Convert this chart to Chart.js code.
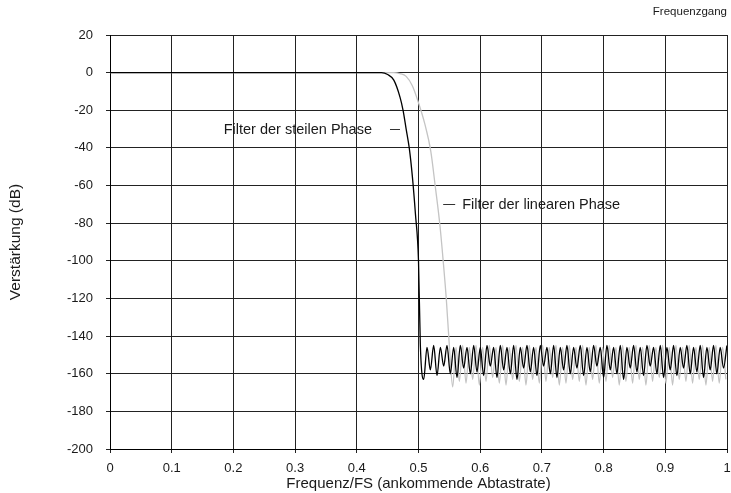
<!DOCTYPE html>
<html>
<head>
<meta charset="utf-8">
<script src="https://cdn.jsdelivr.net/npm/chart.js@4"></script>
<style>
  body { margin: 0; background: #fff; }
  #wrap { width: 731px; height: 493px; }
</style>
</head>
<body>
<div id="wrap"><canvas id="chart" width="731" height="493"></canvas></div>
<script>
// Axis ticks
const xTicks = [0, 0.1, 0.2, 0.3, 0.4, 0.5, 0.6, 0.7, 0.8, 0.9, 1];
const yTicks = [20, 0, -20, -40, -60, -80, -100, -120, -140, -160, -180, -200];

// Steep (minimum) phase filter: passband + transition
const steepFreq = [0, 0.44, 0.45, 0.46, 0.47, 0.475, 0.48, 0.485, 0.49, 0.495, 0.5];
const steepGain = [0, 0, -1, -4, -13, -20, -30, -40, -55, -75, -100];

// Linear phase filter: passband + transition
const linearFreq = [0, 0.46, 0.47, 0.48, 0.49, 0.5, 0.51, 0.52, 0.527, 0.535, 0.54, 0.545];
const linearGain = [0, 0, -0.5, -2, -7, -16, -27, -42, -60, -82, -100, -120];

// Stopband ripple, one value per half period (peak, null, peak, ...)
const rippleStep = 0.0054;
const steepRippleStart = 0.503;
const steepRipple = [
  -145, -163, -146, -158, -145, -161, -146, -156, -145, -160, -146, -162, -145, -157, -146, -160, -145, -159, -146, -161,
  -145, -156, -146, -162, -145, -158, -146, -160, -145, -163, -146, -157, -145, -159, -146, -161, -145, -156, -146, -160,
  -145, -162, -146, -158, -145, -160, -146, -157, -145, -161, -146, -159, -145, -156, -146, -162, -145, -158, -146, -160,
  -145, -163, -146, -157, -145, -159, -146, -161, -145, -156, -146, -160, -145, -162, -146, -158, -145, -161, -146, -157,
  -145, -160, -146, -159, -145, -162, -146, -158, -145, -160, -146, -157, -145
];
const linearRippleStart = 0.55;
const linearRipple = [
  -145, -167, -146, -164, -145, -165, -146, -163, -145, -166, -146, -164, -145, -162, -146, -165, -145, -166, -146, -163,
  -145, -164, -146, -166, -145, -163, -146, -165, -145, -164, -146, -162, -145, -166, -146, -165, -145, -163, -146, -164,
  -145, -166, -146, -163, -145, -165, -146, -164, -145, -162, -146, -166, -145, -164, -146, -165, -145, -163, -146, -166,
  -145, -164, -146, -162, -145, -165, -146, -166, -145, -163, -146, -164, -145, -165, -146, -163, -145, -166, -146, -164,
  -145, -165, -146, -163
];

const steepLabel = 'Filter der steilen Phase';
const linearLabel = 'Filter der linearen Phase';
const steepLabelAt = [0.47, -30];
const linearLabelAt = [0.54, -70];

function buildSeries(freq, gain, rippleStart, ripple) {
  const pts = freq.map((f, i) => ({ x: f, y: gain[i] }));
  ripple.forEach((g, i) => pts.push({ x: rippleStart + i * rippleStep, y: g }));
  return pts;
}

const FONT = '"Liberation Sans", Arial, sans-serif';
const TEXT = '#1a1a1a';

// leader-line labels next to the curves
const curveLabels = {
  id: 'curveLabels',
  afterDatasetsDraw(chart) {
    const { ctx, scales } = chart;
    ctx.save();
    ctx.font = '14.5px ' + FONT;
    ctx.fillStyle = TEXT;
    ctx.strokeStyle = '#333';
    ctx.lineWidth = 1;
    ctx.textBaseline = 'middle';

    let px = scales.x.getPixelForValue(steepLabelAt[0]);
    let py = Math.round(scales.y.getPixelForValue(steepLabelAt[1])) + 0.5;
    ctx.beginPath(); ctx.moveTo(px - 10, py); ctx.lineTo(px, py); ctx.stroke();
    ctx.textAlign = 'right';
    ctx.fillText(steepLabel, px - 28, py);

    px = scales.x.getPixelForValue(linearLabelAt[0]);
    py = Math.round(scales.y.getPixelForValue(linearLabelAt[1])) + 0.5;
    ctx.beginPath(); ctx.moveTo(px, py); ctx.lineTo(px + 12, py); ctx.stroke();
    ctx.textAlign = 'left';
    ctx.fillText(linearLabel, px + 19, py);
    ctx.restore();
  }
};

new Chart(document.getElementById('chart'), {
  type: 'line',
  data: {
    datasets: [
      {
        label: steepLabel,
        data: buildSeries(steepFreq, steepGain, steepRippleStart, steepRipple),
        borderColor: '#000',
        borderWidth: 1.3,
        pointRadius: 0,
        cubicInterpolationMode: 'monotone',
        order: 0
      },
      {
        label: linearLabel,
        data: buildSeries(linearFreq, linearGain, linearRippleStart, linearRipple),
        borderColor: '#c4c4c4',
        borderWidth: 1.3,
        pointRadius: 0,
        cubicInterpolationMode: 'monotone',
        order: 1
      }
    ]
  },
  options: {
    responsive: false,
    animation: false,
    devicePixelRatio: 1,
    layout: { padding: { top: 0, right: 4, bottom: 0, left: 0 } },
    plugins: {
      legend: { display: false },
      tooltip: { enabled: false },
      title: {
        display: true,
        text: 'Frequenzgang',
        align: 'end',
        color: TEXT,
        font: { family: FONT, size: 11.5, weight: 'normal' },
        padding: { top: 5, bottom: 16.2 }
      }
    },
    scales: {
      x: {
        type: 'linear',
        min: 0,
        max: 1,
        afterBuildTicks: s => { s.ticks = xTicks.map(v => ({ value: v })); },
        afterFit: s => { s.height = 44; s.paddingRight = 0; s.paddingLeft = 0; },
        ticks: {
          color: TEXT,
          font: { family: FONT, size: 13 },
          padding: 8,
          maxRotation: 0,
          callback: v => String(v)
        },
        grid: { color: '#222', lineWidth: 1, tickLength: 4, tickColor: '#222' },
        border: { color: '#000', width: 1 },
        title: {
          display: true,
          text: 'Frequenz/FS (ankommende Abtastrate)',
          color: TEXT,
          font: { family: FONT, size: 15 },
          padding: { top: 0, bottom: 0 }
        }
      },
      y: {
        min: -200,
        max: 20,
        afterBuildTicks: s => { s.ticks = yTicks.map(v => ({ value: v })); },
        afterFit: s => { s.width = 110; },
        ticks: {
          color: TEXT,
          font: { family: FONT, size: 13 },
          padding: 13,
          callback: v => String(v)
        },
        grid: { color: '#222', lineWidth: 1, tickLength: 4, tickColor: '#222' },
        border: { color: '#000', width: 1 },
        title: {
          display: true,
          text: 'Verstärkung (dB)',
          color: TEXT,
          font: { family: FONT, size: 15.5 },
          padding: { top: 6, bottom: 0 }
        }
      }
    }
  },
  plugins: [curveLabels]
});
</script>
</body>
</html>
